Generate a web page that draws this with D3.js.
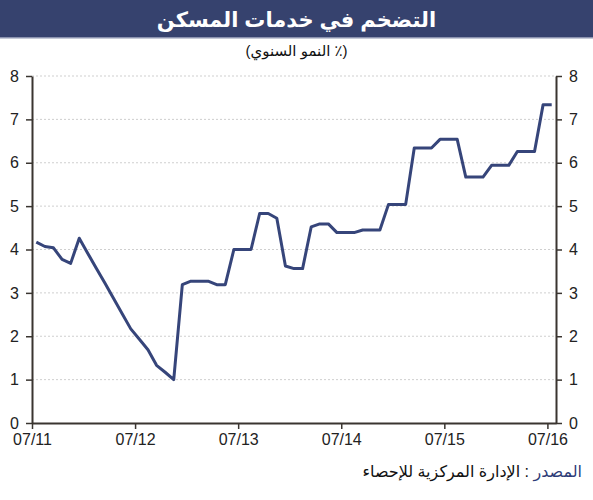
<!DOCTYPE html>
<html lang="ar">
<head>
<meta charset="utf-8">
<title>التضخم في خدمات المسكن</title>
<script src="https://d3js.org/d3.v7.min.js"></script>
<style>
  body { margin: 0; background: #fff; }
  text { font-family: Arial, "Liberation Sans", "DejaVu Sans", sans-serif; }
</style>
</head>
<body>
<div id="chart"></div>
<script>
// monthly values, 07/2011 .. 07/2016
const values = [
  4.17, 4.07, 4.04, 3.77, 3.68, 4.26, 3.91, 3.56, 3.22, 2.87, 2.52, 2.17,
  1.93, 1.69, 1.33, 1.17, 1.0, 3.19, 3.27, 3.27, 3.27, 3.19, 3.19, 4.0,
  4.0, 4.0, 4.83, 4.83, 4.72, 3.62, 3.56, 3.56, 4.52, 4.59, 4.59, 4.39,
  4.39, 4.39, 4.45, 4.45, 4.45, 5.04, 5.04, 5.04, 6.34, 6.34, 6.34, 6.54,
  6.54, 6.54, 5.67, 5.67, 5.67, 5.94, 5.94, 5.94, 6.26, 6.26, 6.26, 7.34,
  7.34
];
const xTickLabels = ['07/11', '07/12', '07/13', '07/14', '07/15', '07/16'];
const yTicks = [0, 1, 2, 3, 4, 5, 6, 7, 8];
const title = 'التضخم في خدمات المسكن';
const subtitle = '(٪ النمو السنوي)';

const width = 593, height = 500;
const svg = d3.select('#chart').append('svg')
  .attr('width', width).attr('height', height);

// title bar
svg.append('rect').attr('x', 0).attr('y', 0).attr('width', width).attr('height', 37)
  .attr('fill', '#36426e');
svg.append('rect').attr('x', 0).attr('y', 37).attr('width', width).attr('height', 1.5)
  .attr('fill', '#8c93b0');
svg.append('text').attr('x', width / 2).attr('y', 27)
  .attr('text-anchor', 'middle').attr('fill', '#fff')
  .attr('font-size', 21).attr('font-weight', 'bold')
  .attr('direction', 'rtl')
  .text(title);
svg.append('text').attr('x', width / 2).attr('y', 56)
  .attr('text-anchor', 'middle').attr('fill', '#111')
  .attr('font-size', 15).attr('direction', 'rtl')
  .text(subtitle);

const plotL = 32, plotR = 556, plotT = 76, plotB = 423;
const x = d3.scaleLinear().domain([0, 61]).range([plotL, plotR]);
const y = d3.scaleLinear().domain([0, 8]).range([plotB, plotT]);

// gridlines
svg.append('g').selectAll('line')
  .data(yTicks.filter(d => d > 0))
  .join('line')
  .attr('x1', plotL).attr('x2', plotR)
  .attr('y1', d => y(d)).attr('y2', d => y(d))
  .attr('stroke', '#cfcfcf').attr('stroke-width', 1)
  .attr('stroke-dasharray', '2,2');

const axisColor = '#3a3530';
function styleAxis(g) {
  g.select('.domain').attr('stroke', axisColor).attr('stroke-width', 2);
  g.selectAll('.tick line').attr('stroke', axisColor).attr('stroke-width', 1.5);
  g.selectAll('.tick text').attr('fill', '#222').attr('font-size', 16)
    .attr('font-family', 'Arial, "Liberation Sans", sans-serif');
}

svg.append('g').attr('transform', `translate(${plotL},0)`)
  .call(d3.axisLeft(y).tickValues(yTicks).tickSize(6).tickSizeOuter(0).tickPadding(7))
  .call(styleAxis);
svg.append('g').attr('transform', `translate(${plotR},0)`)
  .call(d3.axisRight(y).tickValues(yTicks).tickSize(6).tickSizeOuter(0).tickPadding(7))
  .call(styleAxis);
svg.append('g').attr('transform', `translate(0,${plotB})`)
  .call(d3.axisBottom(x).tickValues(xTickLabels.map((d, i) => i * 12))
    .tickFormat((d, i) => xTickLabels[i]).tickSize(6).tickSizeOuter(0).tickPadding(5))
  .call(styleAxis);

// series
const line = d3.line().x((d, i) => x(i + 0.5)).y(d => y(d));
svg.append('path').datum(values)
  .attr('d', line)
  .attr('fill', 'none')
  .attr('stroke', '#36457a')
  .attr('stroke-width', 3)
  .attr('stroke-linejoin', 'round');

// source
const src = svg.append('text').attr('x', 582).attr('y', 477)
  .attr('text-anchor', 'start').attr('direction', 'rtl')
  .attr('font-size', 16);
src.append('tspan').attr('fill', '#2e3c78').text('المصدر');
src.append('tspan').attr('fill', '#111').text(' : الإدارة المركزية للإحصاء');
</script>
</body>
</html>
